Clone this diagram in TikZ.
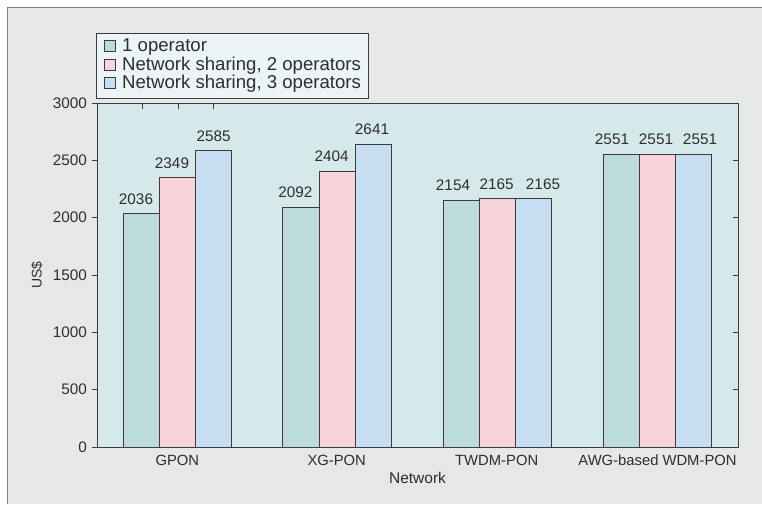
\documentclass[tikz,border=0pt]{standalone}
\usepackage{fontspec}
\setmainfont{Liberation Sans}
\definecolor{panelgray}{HTML}{E6E7E9}
\definecolor{plotcyan}{HTML}{D5E8EA}
\definecolor{legendbg}{HTML}{EBF4F6}
\definecolor{oneop}{HTML}{BBDBDD}
\definecolor{twoop}{HTML}{F8D3DC}
\definecolor{threeop}{HTML}{C8DEF2}
\definecolor{axisline}{HTML}{3C3C3C}
\definecolor{inktext}{HTML}{2E2E2E}

\begin{document}
\begin{tikzpicture}[x=1pt,y=-1pt,
    bar/.style={draw=axisline, line width=1pt},
    val/.style={anchor=base, inner sep=0pt, text=inktext,
        font=\fontsize{15.3}{16}\selectfont},
    tick label/.style={anchor=east, inner sep=0pt, text=inktext,
        font=\fontsize{15.3}{16}\selectfont},
    cat/.style={anchor=base, inner sep=0pt, text=inktext,
        font=\fontsize{14.8}{16}\selectfont},
    key/.style={draw=axisline, line width=0.9pt, minimum size=11pt, inner sep=0pt},
    entry/.style={anchor=base west, inner sep=0pt, text=inktext,
        font=\fontsize{18.6}{20}\selectfont}]
    \useasboundingbox (0,0) rectangle (762,504);
    % panel
    \fill[panelgray] (7,7) rectangle (762,504);
    \draw[gray, line width=1pt] (7,504) -- (7,7) -- (762,7);
    % plot area
    \draw[axisline, fill=plotcyan, line width=1pt] (97,103) rectangle (738,447);
    \draw[axisline, line width=0.8pt] (142,103) -- (142,109)
        (178,103) -- (178,109) (213,103) -- (213,109);

    \begin{scope}[shift={(0,447)}, y=0.114667pt]
        % ticks
        \foreach \v in {0,500,...,3000} {
            \draw[axisline, line width=0.8pt] (92,\v) -- (97,\v);
            \node[tick label] (ytick\v) at (87,\v) {\v};
        }
        \foreach \v in {500,1000,...,2500}
            \draw[axisline, line width=0.8pt] (733,\v) -- (738,\v);

        % GPON
        \draw[bar, fill=oneop] (123.3,0) rectangle (159.5,2036);
        \draw[bar, fill=twoop] (159.5,0) rectangle (195.7,2349);
        \draw[bar, fill=threeop] (195.7,0) rectangle (231.9,2585);
        \node[val, yshift=9.5pt] (gpon1) at (136,2036) {2036};
        \node[val, yshift=9.5pt] (gpon2) at (172,2349) {2349};
        \node[val, yshift=9.5pt] (gpon3) at (213.7,2585) {2585};

        % XG-PON
        \draw[bar, fill=oneop] (282.8,0) rectangle (319,2092);
        \draw[bar, fill=twoop] (319,0) rectangle (355.2,2404);
        \draw[bar, fill=threeop] (355.2,0) rectangle (391.4,2641);
        \node[val, yshift=9.5pt] (xgpon1) at (295.3,2092) {2092};
        \node[val, yshift=9.5pt] (xgpon2) at (331.7,2404) {2404};
        \node[val, yshift=9.5pt] (xgpon3) at (372,2641) {2641};

        % TWDM-PON
        \draw[bar, fill=oneop] (443,0) rectangle (479.2,2154);
        \draw[bar, fill=twoop] (479.2,0) rectangle (515.4,2165);
        \draw[bar, fill=threeop] (515.4,0) rectangle (551.6,2165);
        \node[val, yshift=9.5pt] (twdm1) at (453,2154) {2154};
        \node[val, yshift=9.5pt] (twdm2) at (496.7,2165) {2165};
        \node[val, yshift=9.5pt] (twdm3) at (543,2165) {2165};

        % AWG-based WDM-PON
        \draw[bar, fill=oneop] (603.3,0) rectangle (639.5,2551);
        \draw[bar, fill=twoop] (639.5,0) rectangle (675.7,2551);
        \draw[bar, fill=threeop] (675.7,0) rectangle (711.9,2551);
        \node[val, yshift=9.5pt] (awg1) at (612,2551) {2551};
        \node[val, yshift=9.5pt] (awg2) at (656,2551) {2551};
        \node[val, yshift=9.5pt] (awg3) at (700,2551) {2551};
    \end{scope}

    % axis titles
    \node[cat] (gpon) at (177.3,465) {GPON};
    \node[cat] (xgpon) at (336.7,465) {XG-PON};
    \node[cat] (twdm) at (496.7,465) {TWDM-PON};
    \node[cat] (awg) at (657.5,465) {AWG-based WDM-PON};
    \node[cat, font=\fontsize{15.5}{16}\selectfont] (xtitle) at (417.5,483.3) {Network};
    \node[inner sep=0pt, text=inktext, rotate=90,
        font=\fontsize{14}{16}\selectfont] (ytitle) at (37,275) {US\$};

    % legend
    \node[draw=axisline, line width=1pt, fill=legendbg, anchor=north west,
        minimum width=272.3pt, minimum height=65pt] (legend) at (95.7,33) {};
    \node[key, fill=oneop] (key1) at (109.5,46) {};
    \node[key, fill=twoop] (key2) at (109.5,64.5) {};
    \node[key, fill=threeop] (key3) at (109.5,83) {};
    \node[entry] (entry1) at (122,51.5) {1 operator};
    \node[entry] (entry2) at (122,70) {Network sharing, 2 operators};
    \node[entry] (entry3) at (122,88.5) {Network sharing, 3 operators};
\end{tikzpicture}
\end{document}
